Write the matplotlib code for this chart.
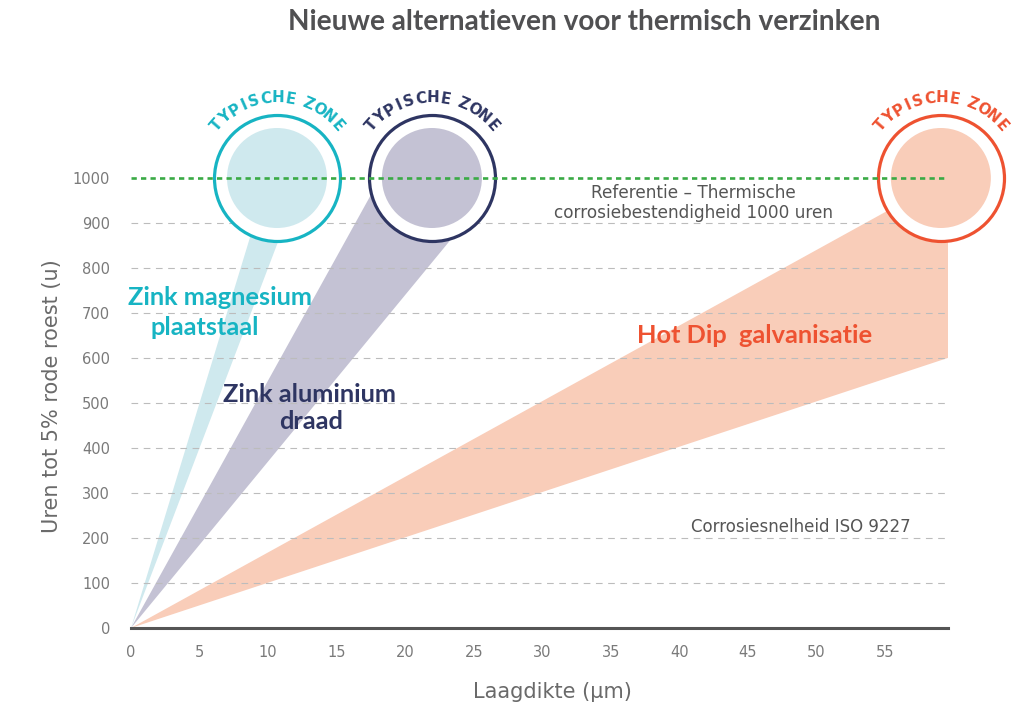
import matplotlib
matplotlib.use("Agg")
import matplotlib.pyplot as plt
import numpy as np
from matplotlib.patches import Polygon

# ---------------- data ----------------
x_ticks = [0, 5, 10, 15, 20, 25, 30, 35, 40, 45, 50, 55]
y_ticks = [0, 100, 200, 300, 400, 500, 600, 700, 800, 900, 1000]
reference_hours = 1000

series_names = ["Zink magnesium plaatstaal", "Zink aluminium draad", "Hot Dip galvanisatie"]
# hours per micrometre: steep and shallow edge of each band
slope_high = [100.0, 55.0, 16.8]
slope_low = [80.0, 37.0, 10.07]
# centre of each "typical zone" (thickness µm, hours)
zone_x = [10.65, 21.95, 59.08]
zone_y = [1000, 1000, 1000]

x_max = 59.6
y_max = 1200

fill_colors = ["#cfe9ee", "#c4c2d4", "#f9cdb9"]
line_colors = ["#17b4c3", "#2e3562", "#ee5231"]

FONT = "Lato"
FONT2 = "DejaVu Sans"
GRAY = "#7a7a7a"

fig = plt.figure(figsize=(10.12, 7.12), dpi=100)
W, H = 1012, 712
ax = fig.add_axes([131 / W, (H - 628) / H, (948 - 131) / W, 540 / H])
ax.set_xlim(0, x_max)
ax.set_ylim(0, y_max)

# ---------------- wedges ----------------
# Zink magnesium
hi, lo = slope_high[0], slope_low[0]
pts = [(0, 0), (zone_y[0] / hi, zone_y[0]), (zone_x[0], zone_y[0]), (900 / lo, 900)]
ax.add_patch(Polygon(pts, closed=True, facecolor=fill_colors[0], edgecolor="none", zorder=1))
# Zink aluminium
hi, lo = slope_high[1], slope_low[1]
pts = [(0, 0), (zone_y[1] / hi, zone_y[1]), (zone_x[1], zone_y[1]), (880 / lo, 880)]
ax.add_patch(Polygon(pts, closed=True, facecolor=fill_colors[1], edgecolor="none", zorder=1))
# Hot dip
hi, lo = slope_high[2], slope_low[2]
pts = [(0, 0), (zone_y[2] / hi, zone_y[2]), (x_max, zone_y[2]), (x_max, lo * x_max)]
ax.add_patch(Polygon(pts, closed=True, facecolor=fill_colors[2], edgecolor="none", zorder=1))

# ---------------- grid ----------------
for yv in y_ticks[1:-1]:
    ax.plot([0, x_max], [yv, yv], color="#bcbcbc", lw=0.8,
            linestyle=(0, (6, 5)), zorder=2, solid_capstyle="butt")

# ---------------- typical zones ----------------
r_fill = 50   # px
r_ring = 63   # px
px2pt = 72 / 100
label = "TYPISCHE ZONE"
weights = np.array([0.55 if c == " " else (0.75 if c == "I" else 1.0) for c in label])
cum = np.cumsum(weights) - weights / 2
frac = (cum - cum[0]) / (cum[-1] - cum[0])
angs = 139 - frac * (139 - 41)
for i in range(3):
    ax.scatter([zone_x[i]], [zone_y[i]], s=(2 * r_ring * px2pt) ** 2, facecolor="white",
               edgecolor=line_colors[i], linewidth=2.3, zorder=3, clip_on=False)
    ax.scatter([zone_x[i]], [zone_y[i]], s=(2 * r_fill * px2pt) ** 2, facecolor=fill_colors[i],
               edgecolor="none", zorder=4, clip_on=False)
    r_txt = 80 * px2pt
    for ch, a in zip(label, angs):
        ar = np.deg2rad(a)
        ax.annotate(ch, xy=(zone_x[i], zone_y[i]), xycoords="data",
                    xytext=(r_txt * np.cos(ar), r_txt * np.sin(ar)), textcoords="offset points",
                    ha="center", va="center", rotation=a - 90, rotation_mode="anchor",
                    fontsize=10.8, fontweight="bold", color=line_colors[i],
                    family=FONT2, zorder=7, annotation_clip=False)

# reference line
ax.plot([0, x_max], [reference_hours, reference_hours], color="#3aaa45", lw=1.9,
        linestyle=(0, (2.0, 1.6)), zorder=5)

# ---------------- axes styling ----------------
for s in ["top", "right", "left"]:
    ax.spines[s].set_visible(False)
ax.spines["bottom"].set_color("#555555")
ax.spines["bottom"].set_linewidth(2.2)
ax.spines["bottom"].set_zorder(6)
ax.set_xticks(x_ticks)
ax.set_yticks(y_ticks)
ax.set_xticklabels([str(v) for v in x_ticks])
ax.set_yticklabels([str(v) for v in y_ticks])
ax.tick_params(axis="both", length=0, colors=GRAY, labelsize=10.5)
ax.tick_params(axis="y", pad=15)
ax.tick_params(axis="x", pad=12)
for lab in ax.get_xticklabels() + ax.get_yticklabels():
    lab.set_family(FONT2)

# ---------------- texts ----------------
big = 18.3
ax.text(6.49, 735, "Zink magnesium", ha="center", va="center", fontsize=big,
        fontweight="bold", color=line_colors[0], family=FONT, zorder=8)
ax.text(5.40, 667, "plaatstaal", ha="center", va="center", fontsize=big,
        fontweight="bold", color=line_colors[0], family=FONT, zorder=8)
ax.text(13.02, 518, "Zink aluminium", ha="center", va="center", fontsize=big,
        fontweight="bold", color=line_colors[1], family=FONT, zorder=8)
ax.text(13.13, 458, "draad", ha="center", va="center", fontsize=big,
        fontweight="bold", color=line_colors[1], family=FONT, zorder=8)
ax.text(45.48, 649, "Hot Dip  galvanisatie", ha="center", va="center", fontsize=big,
        fontweight="bold", color=line_colors[2], family=FONT, zorder=8)
ax.text(41.0, 967, "Referentie \u2013 Thermische", ha="center", va="center", fontsize=12.2,
        color="#555555", family=FONT2, zorder=8)
ax.text(41.0, 922, "corrosiebestendigheid 1000 uren", ha="center", va="center", fontsize=12.2,
        color="#555555", family=FONT2, zorder=8)
ax.text(48.87, 224, "Corrosiesnelheid ISO 9227", ha="center", va="center", fontsize=12.0,
        color="#555555", family=FONT2, zorder=8)

fig.text(584 / W, 1 - 22 / H, "Nieuwe alternatieven voor thermisch verzinken", ha="center",
         va="center", fontsize=20.2, fontweight="bold", color="#505052", family=FONT)
fig.text(552 / W, 1 - 692 / H, "Laagdikte (\u00b5m)", ha="center", va="center", fontsize=15,
         color="#6a6a6a", family=FONT2)
fig.text(52 / W, 1 - 396 / H, "Uren tot 5% rode roest (u)", ha="center", va="center",
         fontsize=15, color="#6a6a6a", family=FONT2, rotation=90)

fig.savefig("out.png", dpi=100, facecolor="white")
